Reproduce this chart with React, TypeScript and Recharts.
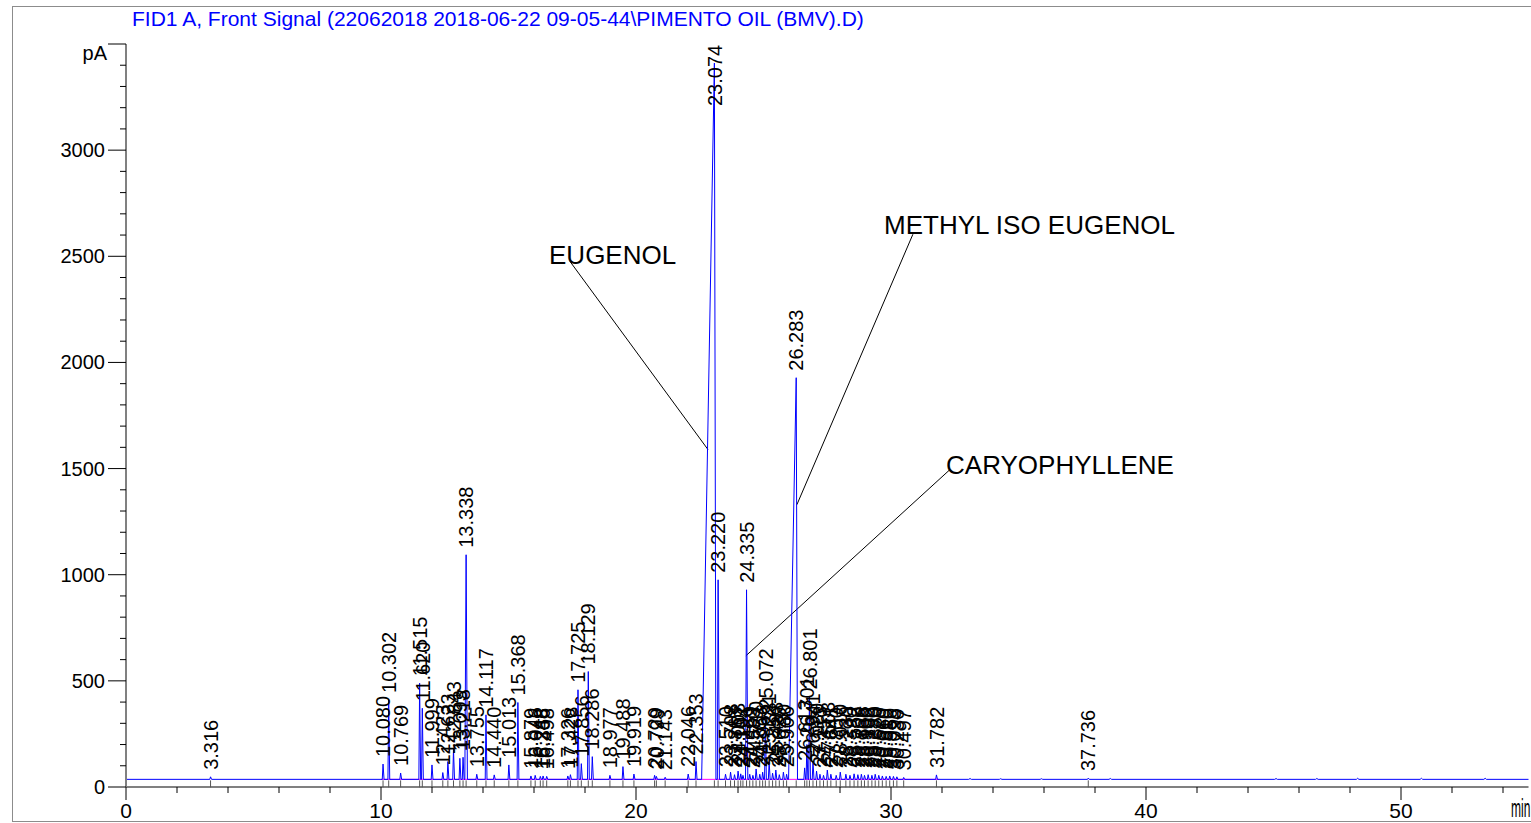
import React from 'react';
import { ComposedChart, Line, Scatter, XAxis, YAxis, ReferenceLine } from 'recharts';

const BASELINE = 36;

// retention times (min) and apex heights (pA) of the integrated peaks
const peakTimes = [
  3.316, 10.08, 10.302, 10.769, 11.515, 11.62, 11.999, 12.423, 12.623, 12.843, 13.093, 13.218, 13.338,
  13.755, 14.117, 14.44, 15.013, 15.368, 15.879, 16.046, 16.248, 16.356, 16.498, 17.326, 17.428, 17.725,
  17.856, 18.129, 18.286, 18.977, 19.488, 19.919, 20.729, 20.799, 21.143, 22.046, 22.353, 23.074, 23.22,
  23.51, 23.708, 23.863, 24.003, 24.107, 24.194, 24.335, 24.459, 24.583, 24.71, 24.853, 24.966, 25.072,
  25.221, 25.356, 25.483, 25.62, 25.78, 25.906, 26.283, 26.613, 26.701, 26.801, 26.941, 27.08, 27.213,
  27.353, 27.503, 27.641, 27.85, 28.01, 28.23, 28.39, 28.552, 28.7, 28.838, 28.96, 29.103, 29.25, 29.38,
  29.52, 29.66, 29.81, 29.95, 30.095, 30.23, 30.497, 31.782, 37.736,
];
const peakHeights = [
  48, 108, 410, 66, 489, 371, 104, 68, 120, 178, 135, 140, 1094,
  60, 340, 57, 104, 398, 52, 55, 50, 52, 50, 52, 58, 458,
  110, 544, 143, 55, 96, 61, 55, 50, 46, 61, 120, 3410, 976,
  60, 70, 58, 75, 62, 55, 929, 60, 55, 85, 60, 70, 332,
  120, 65, 80, 58, 70, 60, 1928, 90, 200, 426, 120, 75, 60,
  55, 80, 60, 55, 70, 60, 55, 62, 58, 60, 55, 58, 55, 60,
  55, 52, 50, 52, 50, 48, 45, 57, 42,
];
// front / tail half widths (min) of the broad peaks, others are narrow
const broadPeaks: Record<string, [number, number]> = {
  '23.074': [0.5, 0.06],
  '26.283': [0.3, 0.05],
  '13.338': [0.05, 0.05],
  '23.220': [0.03, 0.05],
  '24.335': [0.04, 0.05],
};
// small unlabelled baseline blips
const noiseTimes = [33.1, 34.3, 35.9, 38.6, 45.1, 46.7, 48.3, 50.8, 53.3];
const noiseHeights = [40, 39, 39, 40, 40, 40, 41, 41, 41];

const annotationNames = ['EUGENOL', 'METHYL ISO EUGENOL', 'CARYOPHYLLENE'];
const annotationAt = [
  { t: 16.59, y: 2462 },
  { t: 29.73, y: 2604 },
  { t: 32.16, y: 1476 },
];
const leaderLines = [
  [{ x: 17.41, y: 2476 }, { x: 22.82, y: 1590 }],
  [{ x: 30.86, y: 2604 }, { x: 26.31, y: 1330 }],
  [{ x: 32.31, y: 1495 }, { x: 24.31, y: 618 }],
];

const xTicks = Array.from({ length: 28 }, (_, i) => i * 2);
const yTicks = Array.from({ length: 36 }, (_, i) => i * 100);

const FONT = '"Liberation Sans", Arial, sans-serif';

const signal: { t: number; y: number }[] = [{ t: 0, y: BASELINE }, { t: 55, y: BASELINE }];
peakTimes.forEach((t, i) => {
  const [front, tail] = broadPeaks[t.toFixed(3)] || [0.03, 0.04];
  signal.push({ t: t - front, y: BASELINE }, { t, y: peakHeights[i] }, { t: t + tail, y: BASELINE });
});
noiseTimes.forEach((t, i) => {
  signal.push({ t: t - 0.05, y: BASELINE }, { t, y: noiseHeights[i] }, { t: t + 0.05, y: BASELINE });
});
signal.sort((a, b) => a.t - b.t);

const peakMarks = peakTimes.map((t, i) => ({ t, y: peakHeights[i], label: t.toFixed(3) }));
const baseMarks = peakTimes.map((t) => ({ t, y: BASELINE }));
const annotations = annotationNames.map((name, i) => ({ ...annotationAt[i], name }));

const XTick = (props: any) => {
  const { x, y, payload } = props;
  const major = payload.value % 10 === 0;
  return (
    <g>
      <line x1={x} y1={y} x2={x} y2={y + (major ? 13 : 6)} stroke="#000" />
      {major && (
        <text x={x} y={y + 31} textAnchor="middle" fontSize={21} fontFamily={FONT} fill="#000">
          {payload.value}
        </text>
      )}
    </g>
  );
};

const YTick = (props: any) => {
  const { x, y, payload } = props;
  const v = payload.value;
  const major = v % 500 === 0;
  return (
    <g>
      <line x1={x - (major ? 18 : 6)} y1={y} x2={x} y2={y} stroke="#000" />
      {major && v < 3500 && (
        <text x={x - 21} y={y + 7} textAnchor="end" fontSize={20} fontFamily={FONT} fill="#000">
          {v}
        </text>
      )}
      {v === 3500 && (
        <text x={x - 19} y={y + 16} textAnchor="end" fontSize={20} fontFamily={FONT} fill="#000">
          pA
        </text>
      )}
    </g>
  );
};

const PeakLabel = (props: any) => {
  const { cx, cy, payload } = props;
  const y = Math.max(cy - 7, 106);
  return (
    <text
      x={cx}
      y={y}
      dy="0.36em"
      transform={`rotate(-90 ${cx} ${y})`}
      fontSize={20}
      fontFamily={FONT}
      fill="#000"
    >
      {payload.label}
    </text>
  );
};

const BaseMark = (props: any) => {
  const { cx, cy } = props;
  return <line x1={cx} y1={cy + 1} x2={cx} y2={cy + 8} stroke="#555" />;
};

const AnnotationText = (props: any) => {
  const { cx, cy, payload } = props;
  return (
    <text x={cx} y={cy} fontSize={26} fontFamily={FONT} fill="#000">
      {payload.name}
    </text>
  );
};

export default function App() {
  return (
    <div style={{ position: 'absolute', left: 0, top: 0, width: 1531, height: 823, background: '#fff', overflow: 'hidden' }}>
      <div style={{ position: 'absolute', left: 12, top: 6, width: 1540, height: 814, border: '1px solid #8c8c8c' }} />
      <div
        style={{
          position: 'absolute',
          left: 132,
          top: 7,
          fontFamily: FONT,
          fontSize: 21,
          color: '#0000ff',
          whiteSpace: 'nowrap',
        }}
      >
        FID1 A, Front Signal (22062018 2018-06-22 09-05-44\PIMENTO OIL (BMV).D)
      </div>
      <div
        style={{
          position: 'absolute',
          left: 1511,
          top: 795,
          fontFamily: FONT,
          fontSize: 25,
          lineHeight: '26px',
          color: '#000',
          transform: 'scaleX(0.48)',
          transformOrigin: 'left top',
          whiteSpace: 'nowrap',
        }}
      >
        min
      </div>
      <div style={{ position: 'absolute', left: 0, top: 0 }}>
        <ComposedChart width={1531} height={823} data={signal} margin={{ top: 44, right: 2.5, bottom: 6, left: 66 }}>
          <XAxis
            dataKey="t"
            type="number"
            domain={[0, 55]}
            ticks={xTicks}
            tick={XTick}
            tickLine={false}
            tickSize={0}
            tickMargin={0}
            interval={0}
            height={30}
            axisLine={{ stroke: '#808080', strokeWidth: 2 }}
          />
          <YAxis
            type="number"
            domain={[0, 3500]}
            ticks={yTicks}
            tick={YTick}
            tickLine={false}
            tickSize={0}
            tickMargin={0}
            interval={0}
            width={60}
            axisLine={{ stroke: '#808080', strokeWidth: 2 }}
          />
          <ReferenceLine
            segment={[{ x: 10, y: BASELINE }, { x: 31.9, y: BASELINE }]}
            stroke="#ff00ff"
            strokeWidth={1}
          />
          {leaderLines.map((seg, i) => (
            <ReferenceLine key={i} segment={seg} stroke="#000" strokeWidth={1} />
          ))}
          <Scatter data={baseMarks} dataKey="y" shape={BaseMark} isAnimationActive={false} />
          <Line
            dataKey="y"
            type="linear"
            stroke="#0000ff"
            strokeWidth={1}
            dot={false}
            activeDot={false}
            isAnimationActive={false}
          />
          <Scatter data={peakMarks} dataKey="y" shape={PeakLabel} isAnimationActive={false} />
          <Scatter data={annotations} dataKey="y" shape={AnnotationText} isAnimationActive={false} />
        </ComposedChart>
      </div>
    </div>
  );
}
